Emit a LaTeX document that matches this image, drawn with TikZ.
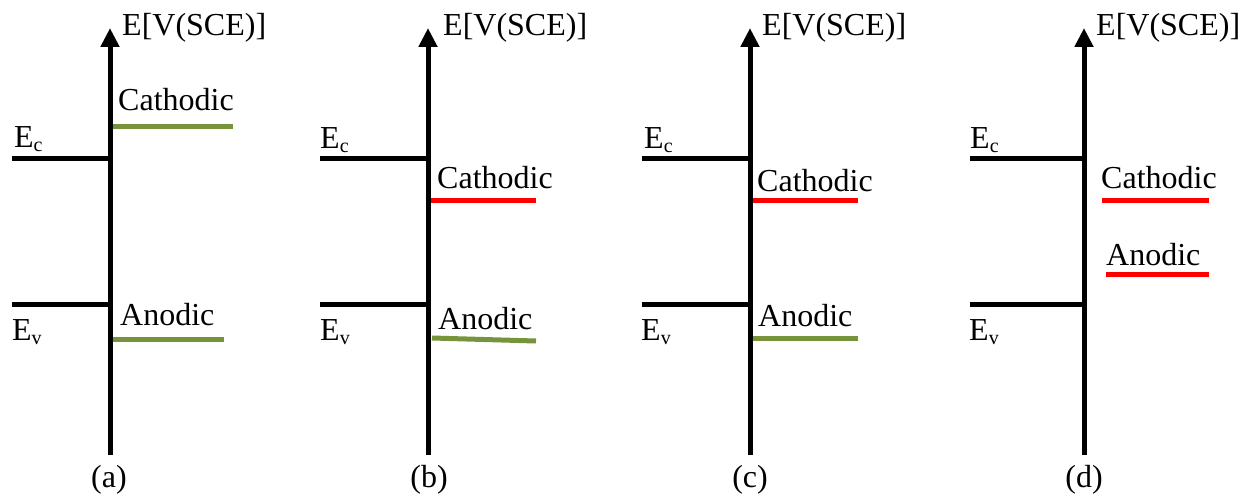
\documentclass[tikz,border=0pt]{standalone}
\usepackage{fontspec}
\setmainfont{Liberation Serif}
\usetikzlibrary{arrows.meta}
\definecolor{olivegreen}{HTML}{77933C}
\definecolor{brightred}{HTML}{FF0000}
\newcommand{\Esub}[1]{E\raisebox{-4pt}{\fontsize{20}{20}\selectfont #1}}
\begin{document}
\begin{tikzpicture}[x=1pt,y=-1pt,
  axisline/.style={line width=5pt,-{Triangle[width=18pt,length=19pt]}},
  bandline/.style={line width=5pt},
  goodline/.style={line width=5pt,draw=olivegreen},
  badline/.style={line width=5pt,draw=brightred},
  lbl/.style={inner sep=0pt,anchor=base west,font=\fontsize{32}{38}\selectfont},
  axlbl/.style={inner sep=0pt,anchor=base west,font=\fontsize{32}{38}\selectfont},
  caplbl/.style={inner sep=0pt,anchor=base,font=\fontsize{32}{38}\selectfont}]
\useasboundingbox (0,0) rectangle (1247,495);

% ---------- panel (a)
\coordinate (aB) at (110,455); \coordinate (aT) at (110,28);
\draw[axisline] (aB) -- (aT);
\node[axlbl] (aY) at (122,36) {E[V(SCE)]};
\coordinate (aC1) at (12,158); \coordinate (aC2) at (108,158);
\draw[bandline] (aC1) -- (aC2);
\node[lbl] (aEc) at (14,147) {\Esub{c}};
\coordinate (aV1) at (12,304); \coordinate (aV2) at (108,304);
\draw[bandline] (aV1) -- (aV2);
\node[lbl] (aEv) at (12,340) {\Esub{v}};
\node[lbl] (aCath) at (118,110) {Cathodic};
\coordinate (aK1) at (113,126); \coordinate (aK2) at (233,126);
\draw[goodline] (aK1) -- (aK2);
\node[lbl] (aAn) at (120,325) {Anodic};
\coordinate (aA1) at (113,339); \coordinate (aA2) at (224,339);
\draw[goodline] (aA1) -- (aA2);
\node[caplbl] (aCap) at (109,487) {(a)};

% ---------- panel (b)
\coordinate (bB) at (428,455); \coordinate (bT) at (428,28);
\draw[axisline] (bB) -- (bT);
\node[axlbl] (bY) at (443,36) {E[V(SCE)]};
\coordinate (bC1) at (320,158); \coordinate (bC2) at (426,158);
\draw[bandline] (bC1) -- (bC2);
\node[lbl] (bEc) at (320,148) {\Esub{c}};
\coordinate (bV1) at (320,304); \coordinate (bV2) at (426,304);
\draw[bandline] (bV1) -- (bV2);
\node[lbl] (bEv) at (320,340) {\Esub{v}};
\node[lbl] (bCath) at (437,188) {Cathodic};
\coordinate (bK1) at (431,200); \coordinate (bK2) at (536,200);
\draw[badline] (bK1) -- (bK2);
\node[lbl] (bAn) at (438,329) {Anodic};
\coordinate (bA1) at (432,338); \coordinate (bA2) at (536,341);
\draw[goodline] (bA1) -- (bA2);
\node[caplbl] (bCap) at (429,487) {(b)};

% ---------- panel (c)
\coordinate (cB) at (750,455); \coordinate (cT) at (750,28);
\draw[axisline] (cB) -- (cT);
\node[axlbl] (cY) at (762,36) {E[V(SCE)]};
\coordinate (cC1) at (642,158); \coordinate (cC2) at (748,158);
\draw[bandline] (cC1) -- (cC2);
\node[lbl] (cEc) at (644,148) {\Esub{c}};
\coordinate (cV1) at (642,304); \coordinate (cV2) at (748,304);
\draw[bandline] (cV1) -- (cV2);
\node[lbl] (cEv) at (641,340) {\Esub{v}};
\node[lbl] (cCath) at (757,191) {Cathodic};
\coordinate (cK1) at (753,200); \coordinate (cK2) at (858,200);
\draw[badline] (cK1) -- (cK2);
\node[lbl] (cAn) at (758,326) {Anodic};
\coordinate (cA1) at (753,338); \coordinate (cA2) at (858,338);
\draw[goodline] (cA1) -- (cA2);
\node[caplbl] (cCap) at (750,487) {(c)};

% ---------- panel (d)
\coordinate (dB) at (1084,455); \coordinate (dT) at (1084,28);
\draw[axisline] (dB) -- (dT);
\node[axlbl] (dY) at (1096,36) {E[V(SCE)]};
\coordinate (dC1) at (970,158); \coordinate (dC2) at (1082,158);
\draw[bandline] (dC1) -- (dC2);
\node[lbl] (dEc) at (970,148) {\Esub{c}};
\coordinate (dV1) at (970,304); \coordinate (dV2) at (1082,304);
\draw[bandline] (dV1) -- (dV2);
\node[lbl] (dEv) at (969,340) {\Esub{v}};
\node[lbl] (dCath) at (1101,188) {Cathodic};
\coordinate (dK1) at (1102,200); \coordinate (dK2) at (1209,200);
\draw[badline] (dK1) -- (dK2);
\node[lbl] (dAn) at (1106,265) {Anodic};
\coordinate (dA1) at (1106,274); \coordinate (dA2) at (1209,274);
\draw[badline] (dA1) -- (dA2);
\node[caplbl] (dCap) at (1084,487) {(d)};
\end{tikzpicture}
\end{document}
